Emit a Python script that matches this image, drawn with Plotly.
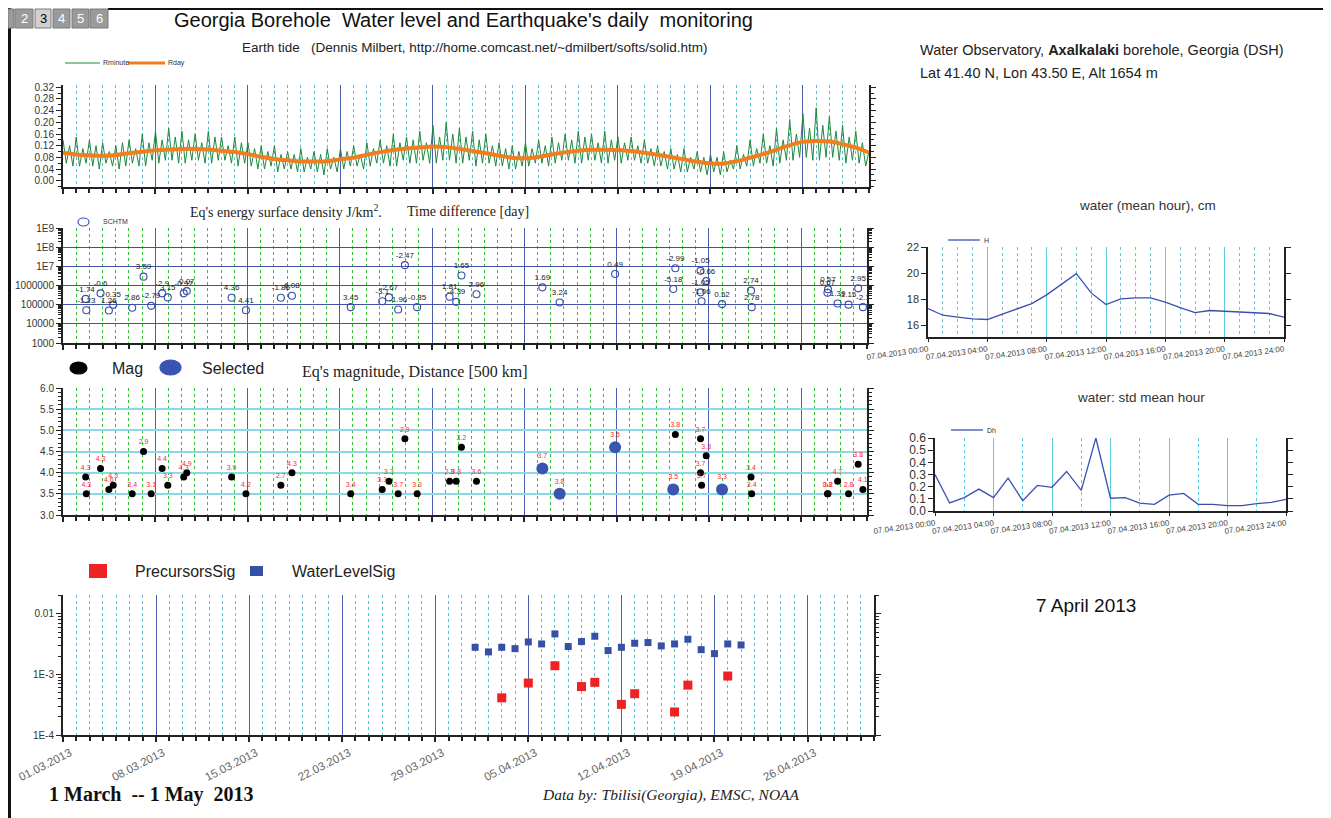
import plotly.graph_objects as go

W, H = 1331, 818
OFF = 8  # default page body margin
FW, FH = W - OFF, H - OFF

# ---------------- data ----------------
date_days = [0, 7, 14, 21, 28, 35, 42, 49, 56]
date_labels = ["01.03.2013", "08.03.2013", "15.03.2013", "22.03.2013", "29.03.2013",
               "05.04.2013", "12.04.2013", "19.04.2013", "26.04.2013"]

# Earth tide, daily mean (Rday), day index from 01.03.2013
rday = [0.096, 0.090, 0.087, 0.085, 0.088, 0.094, 0.099, 0.104, 0.107, 0.109,
        0.109, 0.107, 0.103, 0.098, 0.091, 0.082, 0.074, 0.070, 0.066, 0.066,
        0.067, 0.073, 0.079, 0.089, 0.098, 0.105, 0.110, 0.114, 0.117, 0.115,
        0.109, 0.102, 0.094, 0.086, 0.079, 0.077, 0.082, 0.090, 0.097, 0.103,
        0.106, 0.106, 0.105, 0.102, 0.096, 0.089, 0.081, 0.073, 0.065, 0.059,
        0.059, 0.067, 0.079, 0.091, 0.106, 0.122, 0.133, 0.136, 0.134, 0.125,
        0.113, 0.096]
rday_days = list(range(len(rday)))

# Earth tide, minute series (sampled every 6 h)
rminute_step = 0.25
rminute = [
    0.14, 0.06, 0.12, 0.05, 0.15, 0.05, 0.11, 0.06,
    0.14, 0.05, 0.12, 0.04, 0.13, 0.06, 0.10, 0.05,
    0.12, 0.04, 0.13, 0.05, 0.14, 0.06, 0.11, 0.05,
    0.16, 0.05, 0.13, 0.07, 0.17, 0.06, 0.14, 0.07,
    0.18, 0.07, 0.15, 0.06, 0.17, 0.06, 0.14, 0.07,
    0.16, 0.07, 0.13, 0.06, 0.17, 0.06, 0.15, 0.07,
    0.15, 0.07, 0.12, 0.06, 0.15, 0.05, 0.13, 0.06,
    0.13, 0.05, 0.11, 0.04, 0.12, 0.04, 0.10, 0.05,
    0.12, 0.03, 0.09, 0.04, 0.10, 0.04, 0.09, 0.03,
    0.11, 0.03, 0.08, 0.04, 0.10, 0.03, 0.09, 0.02,
    0.11, 0.04, 0.08, 0.03, 0.11, 0.04, 0.10, 0.05,
    0.12, 0.05, 0.09, 0.04, 0.13, 0.05, 0.11, 0.06,
    0.14, 0.06, 0.12, 0.05, 0.16, 0.05, 0.13, 0.07,
    0.15, 0.06, 0.14, 0.06, 0.17, 0.07, 0.13, 0.06,
    0.19, 0.06, 0.15, 0.07, 0.20, 0.07, 0.16, 0.06,
    0.18, 0.06, 0.15, 0.07, 0.17, 0.05, 0.14, 0.06,
    0.16, 0.06, 0.12, 0.05, 0.13, 0.05, 0.11, 0.04,
    0.12, 0.04, 0.10, 0.05, 0.13, 0.05, 0.11, 0.06,
    0.14, 0.06, 0.12, 0.05, 0.15, 0.06, 0.13, 0.07,
    0.16, 0.07, 0.14, 0.06, 0.17, 0.06, 0.15, 0.07,
    0.16, 0.07, 0.13, 0.06, 0.17, 0.06, 0.14, 0.07,
    0.15, 0.06, 0.13, 0.07, 0.15, 0.07, 0.12, 0.06,
    0.14, 0.06, 0.11, 0.05, 0.12, 0.05, 0.10, 0.04,
    0.11, 0.04, 0.09, 0.03, 0.11, 0.03, 0.08, 0.04,
    0.10, 0.03, 0.08, 0.02, 0.09, 0.03, 0.08, 0.02,
    0.10, 0.03, 0.07, 0.04, 0.12, 0.04, 0.09, 0.05,
    0.14, 0.05, 0.11, 0.06, 0.16, 0.06, 0.12, 0.05,
    0.18, 0.06, 0.14, 0.07, 0.21, 0.07, 0.16, 0.08,
    0.23, 0.08, 0.18, 0.07, 0.25, 0.07, 0.19, 0.08,
    0.22, 0.08, 0.17, 0.07, 0.19, 0.06, 0.15, 0.07,
    0.17, 0.06, 0.13, 0.05, 0.10]
rminute_days = [i * rminute_step for i in range(len(rminute))]

# Earthquakes: day offset from 01.03.2013
eq_day = [1.72, 1.77, 2.85, 3.48, 3.81, 5.25, 6.11, 6.69, 7.52, 7.95,
          9.16, 9.39, 12.79, 13.88, 16.53, 17.37, 21.83, 24.22, 24.73, 25.43,
          25.94, 26.87, 29.33, 29.83, 30.23, 31.37, 36.37, 37.68, 41.89, 46.46,
          46.30, 48.37, 48.80, 48.37, 48.45, 50.0, 52.2, 52.25, 58.0, 58.04,
          58.77, 59.6, 60.33, 60.69]
eq_mag = [3.9, 3.5, 4.1, 3.6, 3.7, 3.5, 4.5, 3.5, 4.1, 3.7,
          3.9, 4.0, 3.9, 3.5, 3.7, 4.0, 3.5, 3.6, 3.8, 3.5,
          4.8, 3.5, 3.8, 3.8, 4.6, 3.8, 4.1, 3.5, 4.6, 4.9,
          3.6, 4.8, 4.4, 4.0, 3.7, 3.6, 3.9, 3.5, 3.5, 3.5,
          3.8, 3.5, 4.2, 3.6]
eq_dist_label = ["4.3", "4.3", "4.3", "4.6", "4.3", "3.4", "2.9", "3.1", "4.4", "3.3",
                 "4.3", "4.9", "3.9", "4.2", "2.7", "4.3", "3.4", "3.1", "3.3", "3.7",
                 "2.9", "3.3", "2.8", "3.8", "3.2", "3.6", "3.7", "3.8", "3.5", "3.8",
                 "3.5", "3.7", "3.3", "3.7", "3.7", "3.3", "3.4", "3.4", "0.8", "3.2",
                 "4.7", "2.8", "3.8", "4.1"]
eq_selected = [False] * 26 + [True, True, True, False, True, False, False, False, False,
                              True] + [False] * 8
eq_energy = [2.0e5, 5.1e4, 3.9e5, 5.0e4, 9.8e4, 6.9e4, 2.9e6, 8.7e4, 3.9e5, 2.4e5,
             3.9e5, 5.1e5, 2.3e5, 5.1e4, 2.3e5, 2.9e5, 7.4e4, 1.5e5, 2.4e5, 5.6e4,
             1.15e7, 7.4e4, 2.6e5, 1.4e5, 3.3e6, 3.5e5, 8.0e5, 1.3e5, 4.0e6, 7.9e6,
             6.6e5, 5.8e6, 1.7e6, 4.4e5, 1.5e5, 1.07e5, 5.4e5, 7.4e4, 4.2e5, 6.3e5,
             1.15e5, 1.0e5, 7.1e5, 7.4e4]
eq_dt_label = ["-1.74", "-1.23", "-0.6", "1.26", "0.35", "2.86", "3.59", "-2.79", "-2.9", "3.15",
               "-0.97", "0.07", "4.36", "4.41", "-1.86", "6.08", "3.45", "-3.1", "-2.67", "-1.96",
               "-2.47", "-0.85", "1.81", "-4.39", "1.65", "2.96", "1.69", "3.24", "0.49", "-2.99",
               "-5.18", "-1.05", "-0.66", "-1.05", "-1.06", "0.52", "2.74", "2.78", "0.67", "0.57",
               "1.39", "1.15", "2.95", "-2.1"]

# Significance series
water_sig_day = [31, 32, 33, 34, 35, 36, 37, 38, 39, 40, 41, 42, 43, 44, 45, 46, 47, 48, 49, 50, 51]
water_sig = [2.8e-3, 2.35e-3, 2.8e-3, 2.66e-3, 3.43e-3, 3.18e-3, 4.66e-3, 2.88e-3, 3.48e-3, 4.26e-3,
             2.47e-3, 2.8e-3, 3.27e-3, 3.35e-3, 2.95e-3, 3.18e-3, 3.8e-3, 2.56e-3, 2.2e-3, 3.18e-3,
             3.06e-3]
prec_sig_day = [33, 35, 37, 39, 40, 42, 43, 46, 47, 50]
prec_sig = [4.1e-4, 7.2e-4, 1.39e-3, 6.3e-4, 7.4e-4, 3.2e-4, 4.8e-4, 2.4e-4, 6.65e-4, 9.4e-4]

# Right panels: 07.04.2013 hourly
hours = list(range(25))
hour_ticks = [0, 4, 8, 12, 16, 20, 24]
hour_labels = ["07.04.2013 00:00", "07.04.2013 04:00", "07.04.2013 08:00", "07.04.2013 12:00",
               "07.04.2013 16:00", "07.04.2013 20:00", "07.04.2013 24:00"]
water_h = [17.28, 16.77, 16.62, 16.49, 16.44, 16.85, 17.23, 17.66, 18.33, 19.12,
           19.96, 18.48, 17.59, 18.02, 18.10, 18.10, 17.77, 17.36, 16.97, 17.13,
           17.08, 17.05, 16.97, 16.90, 16.62]
water_dh = [0.30, 0.066, 0.11, 0.18, 0.11, 0.27, 0.085, 0.21, 0.195, 0.325,
            0.17, 0.60, 0.105, 0.11, 0.065, 0.055, 0.13, 0.145, 0.055, 0.055,
            0.045, 0.045, 0.06, 0.07, 0.095]

# ---------------- helpers (page pixel -> paper fraction) ----------------
def fx(p):
    return (p - OFF) / FW


def fy(p):
    return 1 - (p - OFF) / FH


BLUE_GRID = "#4d5db0"
CYAN = "#45c6da"
GREEN = "#3cb83c"
AX = "#222222"
TICKFONT = dict(family="Arial", size=10, color="#333")
DASH = "3px,3px"

fig = go.Figure()

# Tide
fig.add_trace(go.Scatter(x=rminute_days, y=rminute, mode="lines",
                         line=dict(color="#1b8a3e", width=1), xaxis="x", yaxis="y",
                         showlegend=False))
fig.add_trace(go.Scatter(x=rday_days, y=rday, mode="lines", line=dict(color="#f07d1e", width=4),
                         xaxis="x", yaxis="y", showlegend=False, line_shape="spline"))

# Energy
fig.add_trace(go.Scatter(x=eq_day, y=eq_energy, mode="markers+text", text=eq_dt_label,
                         textposition="top center", textfont=dict(size=8, color="#222", family="Arial"),
                         marker=dict(symbol="circle-open", size=7, color="#3a4fa8", line=dict(width=1.1)),
                         xaxis="x2", yaxis="y2", showlegend=False))

# Magnitude
mag_x_n = [d for d, s in zip(eq_day, eq_selected) if not s]
mag_y_n = [m for m, s in zip(eq_mag, eq_selected) if not s]
mag_t_n = [t for t, s in zip(eq_dist_label, eq_selected) if not s]
mag_x_s = [d for d, s in zip(eq_day, eq_selected) if s]
mag_y_s = [m for m, s in zip(eq_mag, eq_selected) if s]
mag_t_s = [t for t, s in zip(eq_dist_label, eq_selected) if s]
fig.add_trace(go.Scatter(x=mag_x_s, y=mag_y_s, mode="markers+text", text=mag_t_s,
                         textposition="top center", textfont=dict(size=7, color="#ff2a2a", family="Arial"),
                         marker=dict(symbol="circle", size=12, color="#3a55b0"),
                         xaxis="x3", yaxis="y3", showlegend=False))
fig.add_trace(go.Scatter(x=mag_x_n, y=mag_y_n, mode="markers+text", text=mag_t_n,
                         textposition="top center", textfont=dict(size=7, color="#ff2a2a", family="Arial"),
                         marker=dict(symbol="circle", size=7, color="#000000"),
                         xaxis="x3", yaxis="y3", showlegend=False))

# Significance
fig.add_trace(go.Scatter(x=water_sig_day, y=water_sig, mode="markers",
                         marker=dict(symbol="square", size=7, color="#3550a5"),
                         xaxis="x4", yaxis="y4", showlegend=False))
fig.add_trace(go.Scatter(x=prec_sig_day, y=prec_sig, mode="markers",
                         marker=dict(symbol="square", size=9, color="#ee2222"),
                         xaxis="x4", yaxis="y4", showlegend=False))

# Right panels
fig.add_trace(go.Scatter(x=hours, y=water_h, mode="lines", line=dict(color="#3a4fb0", width=1.3),
                         xaxis="x5", yaxis="y5", showlegend=False))
fig.add_trace(go.Scatter(x=hours, y=water_dh, mode="lines", line=dict(color="#3a4fb0", width=1.3),
                         xaxis="x6", yaxis="y6", showlegend=False))


def left_x(right, minor_color, anchor, labels=False):
    return dict(domain=[fx(63), fx(right)], range=[0, 61], anchor=anchor, automargin=False,
                tickmode="array", tickvals=date_days, ticktext=date_labels,
                showticklabels=labels, tickangle=-27, ticklabeloverflow="allow",
                ticklabelshift=7,
                tickfont=dict(family="Arial", size=11.5, color="#666"),
                showgrid=True, gridcolor=BLUE_GRID, gridwidth=1.3,
                ticks="outside", ticklen=5, tickcolor=AX, tickwidth=1.5,
                showline=True, linecolor=AX, linewidth=2, zeroline=False,
                minor=dict(tickmode="linear", tick0=0, dtick=1, showgrid=True,
                           gridcolor=minor_color, griddash=DASH, gridwidth=1,
                           ticks="outside", ticklen=4, tickcolor=AX))


def base_y(anchor, dom):
    return dict(domain=dom, anchor=anchor, automargin=False, showline=True, linecolor=AX, linewidth=2,
                mirror="ticks", ticks="outside", ticklen=5, tickcolor=AX, zeroline=False,
                tickfont=TICKFONT)


yt = base_y("x", [fy(187), fy(85)])
yt.update(range=[-0.0216, 0.3279], tickmode="linear", tick0=0, dtick=0.04, tickformat=".2f",
          showgrid=False, minor=dict(tickmode="linear", tick0=0, dtick=0.02, ticks="outside",
                                     ticklen=3, tickcolor=AX))

ye = base_y("x2", [fy(343), fy(228)])
ye.update(type="log", range=[3, 9], tickmode="array",
          tickvals=[1e3, 1e4, 1e5, 1e6, 1e7, 1e8, 1e9],
          ticktext=["1000", "10000", "100000", "1000000", "1E7", "1E8", "1E9"],
          showgrid=True, gridcolor="#4352a8", gridwidth=1.3,
          minor=dict(ticks="outside", ticklen=3, tickcolor=AX, dtick="D1"))

ym = base_y("x3", [fy(515), fy(388)])
ym.update(range=[3, 6], tickmode="linear", tick0=3, dtick=0.5, tickformat=".1f",
          showgrid=True, gridcolor="#8ad9e8", gridwidth=2,
          minor=dict(tickmode="linear", tick0=3, dtick=0.1, ticks="outside", ticklen=3, tickcolor=AX))

ys = base_y("x4", [fy(735), fy(595)])
ys.update(type="log", range=[-4, -1.69], tickmode="array", tickvals=[1e-4, 1e-3, 1e-2],
          ticktext=["1E-4", "1E-3", "0.01"], showgrid=False,
          minor=dict(ticks="outside", ticklen=3, tickcolor=AX, dtick="D1"))


def right_x(dom, anchor, minor_tick0, minor_dtick):
    return dict(domain=dom, anchor=anchor, automargin=False, range=[0, 24], tickmode="array",
                tickvals=hour_ticks, ticktext=hour_labels, tickangle=-8, ticklabeloverflow="allow",
                tickfont=dict(family="Arial", size=8, color="#444"),
                showgrid=True, gridcolor="#5ccbe0", gridwidth=1.3, ticks="outside", ticklen=3,
                tickcolor=AX, showline=True, linecolor=AX, linewidth=1.5, zeroline=False,
                minor=dict(tickmode="linear", tick0=minor_tick0, dtick=minor_dtick, showgrid=True,
                           gridcolor="#5ccbe0", griddash=DASH, gridwidth=1))


yw = base_y("x5", [fy(337), fy(247)])
yw.update(range=[15.1, 22], tickmode="array", tickvals=[16, 18, 20, 22], showgrid=False,
          linewidth=1.5, tickfont=dict(family="Arial", size=11, color="#333"))
yd = base_y("x6", [fy(511), fy(438)])
yd.update(range=[0, 0.6], tickmode="linear", tick0=0, dtick=0.1, tickformat=".1f", showgrid=False,
          linewidth=1.5, tickfont=dict(family="Arial", size=12, color="#333"))

fig.update_layout(
    template="none",
    width=FW, height=FH, margin=dict(l=0, r=0, t=0, b=0, pad=0), autosize=False,
    paper_bgcolor="white", plot_bgcolor="white", showlegend=False,
    xaxis=left_x(869, CYAN, "y"), yaxis=yt,
    xaxis2=left_x(867, GREEN, "y2"), yaxis2=ye,
    xaxis3=left_x(867, GREEN, "y3"), yaxis3=ym,
    xaxis4=left_x(874, CYAN, "y4", labels=True), yaxis4=ys,
    xaxis5=right_x([fx(928), fx(1284)], "y5", 0, 1), yaxis5=yw,
    xaxis6=right_x([fx(935), fx(1286)], "y6", 2, 4), yaxis6=yd,
)

shapes = []
annos = []


def rect(x0, y0, x1, y1, fill, line=None, lw=0):
    shapes.append(dict(type="rect", xref="paper", yref="paper", x0=fx(x0), x1=fx(x1),
                       y0=fy(y1), y1=fy(y0), fillcolor=fill,
                       line=dict(color=line or fill, width=lw)))


def hline(x0, x1, y, color, width, dash=None):
    shapes.append(dict(type="line", xref="paper", yref="paper", x0=fx(x0), x1=fx(x1),
                       y0=fy(y), y1=fy(y), line=dict(color=color, width=width, dash=dash)))


def vline(x, y0, y1, color, width):
    shapes.append(dict(type="line", xref="paper", yref="paper", x0=fx(x), x1=fx(x),
                       y0=fy(y0), y1=fy(y1), line=dict(color=color, width=width)))


def ellipse(x0, y0, x1, y1, fill, line):
    shapes.append(dict(type="circle", xref="paper", yref="paper", x0=fx(x0), x1=fx(x1),
                       y0=fy(y1), y1=fy(y0), fillcolor=fill, line=dict(color=line, width=1.2)))


def text(x, y, s, size, xanchor="left", family="Arial", color="#222", **kw):
    annos.append(dict(xref="paper", yref="paper", x=fx(x), y=fy(y), text=s, showarrow=False,
                      xanchor=xanchor, yanchor="middle", font=dict(family=family, size=size, color=color),
                      **kw))


# Page frame
vline(9.5, 8, 818, "#111", 3)
hline(108, 1331, 9, "#111", 2)
vline(1328, 8, 818, "#111", 2)

# Tabs
tab_x = [(8, 14), (15, 33), (35, 51), (53, 70), (72, 89), (90, 108)]
tab_t = ["1", "2", "3", "4", "5", "6"]
for (a, b), t in zip(tab_x, tab_t):
    active = t == "3"
    rect(a, 9, b, 28, "#d0d0d0" if active else "#9a9a9a", line="#7a7a7a", lw=1)
    if t != "1":
        text((a + b) / 2, 18.5, t, 13, xanchor="center", color="#000" if active else "#fff")

# Titles
text(463, 20, "Georgia Borehole  Water level and Earthquake's daily  monitoring", 20, xanchor="center",
     color="#111")
text(475, 47, "Earth tide   (Dennis Milbert, http://home.comcast.net/~dmilbert/softs/solid.htm)", 13.5,
     xanchor="center", color="#222")
text(918, 50, "Water Observatory, <b>Axalkalaki</b> borehole, Georgia (DSH)", 14.5, color="#222")
text(918, 73, "Lat 41.40 N, Lon 43.50 E, Alt 1654 m", 14.5, color="#222")

# Tide legend
hline(65, 100, 63, "#1b8a3e", 1.2)
text(101, 63, "Rminute", 7, color="#333")
hline(128, 165, 63, "#f07d1e", 3)
text(166, 63, "Rday", 7, color="#333")

# Energy title + legend
text(188, 211, "Eq's energy surface density J/km<sup>2</sup>.", 14, family="Liberation Serif", color="#222")
text(405, 211, "Time difference [day]", 14, family="Liberation Serif", color="#222")
ellipse(78, 218, 89, 226, "white", "#3a4fa8")
text(101, 222, "SCHTM", 7, color="#333")

# Magnitude legend + title
ellipse(70, 362, 87, 374, "#000", "#000")
text(110, 368, "Mag", 16, color="#222")
ellipse(160, 360, 181, 375, "#3a55b0", "#3a55b0")
text(200, 368, "Selected", 16, color="#222")
text(300, 372, "Eq's magnitude, Distance [500 km]", 16, family="Liberation Serif", color="#222")

# Significance legend
rect(89, 564, 107, 578, "#ee2222")
text(133, 571, "PrecursorsSig", 16, color="#222")
rect(250, 566, 263, 576, "#3550a5")
text(290, 571, "WaterLevelSig", 16, color="#222")

# Right panel titles / legends
text(1147, 205, "water (mean hour), cm", 13.5, xanchor="center", color="#333")
hline(948, 980, 240, "#3a4fb0", 1.3)
text(982, 240, "H", 7, color="#333")
text(1141, 397, "water: std mean hour", 13.5, xanchor="center", color="#333")
hline(951, 983, 430, "#3a4fb0", 1.3)
text(985, 430, "Dh", 7, color="#333")

text(1086, 605, "7 April 2013", 19, xanchor="center", color="#111")

# Footer
text(47, 794, "<b>1 March  -- 1 May  2013</b>", 20, family="Liberation Serif", color="#111")
text(540, 795, "<i>Data by: Tbilisi(Georgia), EMSC, NOAA</i>", 15.5, family="Liberation Serif",
     color="#222")

fig.update_layout(shapes=shapes, annotations=annos)
fig.write_html("out.html")
